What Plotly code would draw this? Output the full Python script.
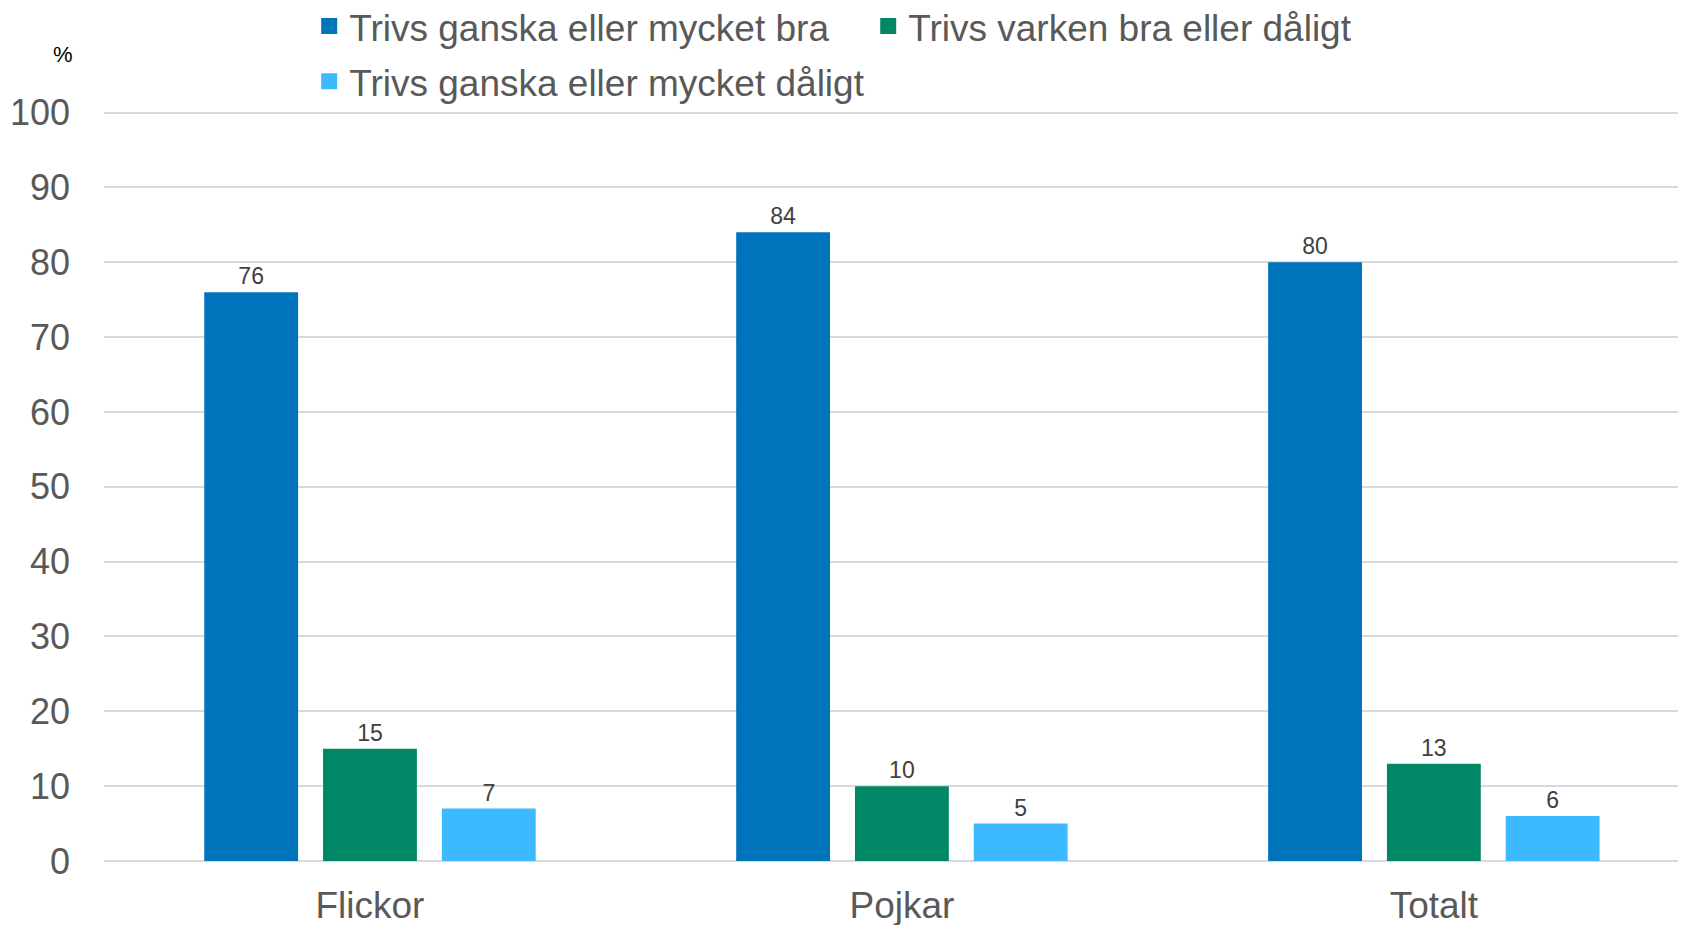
import plotly.graph_objects as go

# ---------------------------------------------------------
# DATA
# ---------------------------------------------------------

categories = ["Flickor", "Pojkar", "Totalt"]

series_names = [
    "Trivs ganska eller mycket bra",
    "Trivs varken bra eller dåligt",
    "Trivs ganska eller mycket dåligt",
]

bra = [76, 84, 80]
varken = [15, 10, 13]
daligt = [7, 5, 6]

y_ticks = [0, 10, 20, 30, 40, 50, 60, 70, 80, 90, 100]

colors = ["#0074BB", "#008866", "#3DB9FF"]
legend_ids = ["legend", "legend", "legend2"]

# ---------------------------------------------------------
# FIGURE
# ---------------------------------------------------------

fig = go.Figure()

for name, values, color in zip(series_names, [bra, varken, daligt], colors):
    fig.add_trace(go.Bar(
        name=name,
        x=categories,
        y=values,
        marker={"color": color, "line": {"width": 0}},
        text=values,
        textposition="outside",
        textfont={"size": 23, "color": "#404040"},
        cliponaxis=False,
        showlegend=False,
    ))

# legend-only entries, so the legend squares can be larger than the bar icons
for name, color, lg in zip(series_names, colors, legend_ids):
    fig.add_trace(go.Scatter(
        name=name,
        x=[None],
        y=[None],
        mode="markers",
        marker={"symbol": "square", "size": 16, "color": color},
        legend=lg,
    ))

legend_style = {
    "orientation": "h",
    "x": 0.1297,
    "xanchor": "left",
    "yref": "container",
    "yanchor": "middle",
    "entrywidth": 514,
    "font": {"size": 37, "color": "#595959"},
    "bgcolor": "rgba(0,0,0,0)",
}

# page body has an 8px margin, so the figure is a bit smaller than the window
fig.update_layout(
    width=1678,
    height=917,
    barmode="group",
    bargap=0.33,
    bargroupgap=0.21,
    plot_bgcolor="white",
    paper_bgcolor="white",
    font={"family": "Liberation Sans, Arial, sans-serif", "color": "#595959", "size": 36},
    margin={"l": 96, "r": 0, "t": 103, "b": 64, "autoexpand": False},
    legend={**legend_style, "y": 0.9798},
    legend2={**legend_style, "y": 0.9196},
    annotations=[{
        "text": "%",
        "xref": "paper",
        "yref": "paper",
        "x": -0.026,
        "y": 1.075,
        "xanchor": "center",
        "yanchor": "middle",
        "showarrow": False,
        "font": {"size": 22, "color": "#000000"},
    }],
)

fig.update_xaxes(
    range=[-0.5, 2.474],
    showgrid=False,
    showline=False,
    ticks="",
    ticklabelstandoff=19,
    tickfont={"size": 37, "color": "#595959"},
)

fig.update_yaxes(
    range=[0, 100.2],
    tickvals=y_ticks,
    showgrid=True,
    gridcolor="#D9D9D9",
    gridwidth=2,
    zeroline=True,
    zerolinecolor="#D9D9D9",
    zerolinewidth=2,
    showline=False,
    ticks="",
    ticklabelstandoff=33,
    tickfont={"size": 36, "color": "#595959"},
)

fig.write_html("out.html")
